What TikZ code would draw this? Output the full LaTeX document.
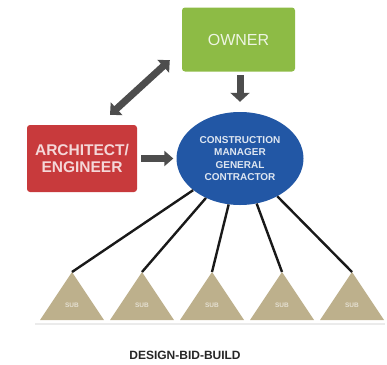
\documentclass[tikz,border=0pt]{standalone}
\usepackage{fontspec}
\setmainfont{Liberation Sans}
\usepackage{tikz}
\usetikzlibrary{shapes.geometric}
\usetikzlibrary{arrows.meta}
\definecolor{ownergreen}{HTML}{8DBB45}
\definecolor{archred}{HTML}{C83A3C}
\definecolor{cmblue}{HTML}{2257A5}
\definecolor{subtan}{HTML}{BDB08C}
\definecolor{arrowgray}{HTML}{4D4D4D}
\newcommand{\subtriangle}[2]{ % Takes apex x coord and a name for the apex as arguments
    \fill[subtan] (#1,272) coordinate (#2) -- (#1+32,320) -- (#1-32,320) -- cycle;
    \node[subtext] (#2lbl) at (#1,305) {SUB};
}

\begin{document}
\begin{tikzpicture}[x=1pt, y=-1pt,
    box/.style={rectangle, rounded corners=3pt, align=center, inner sep=0pt},
    fatarrow/.style={arrowgray, line width=7pt},
    subline/.style={black!90, line width=2.4pt},
    subtext/.style={font=\bfseries\fontsize{6.5}{7}\selectfont, text=white!60!subtan, inner sep=0pt}]
    \useasboundingbox (0,0) rectangle (387,364);

    % Owner, architect and CM
    \node[box, fill=ownergreen, minimum width=113pt, minimum height=64pt, text=white!85!ownergreen,
        font=\fontsize{16}{18}\selectfont] (owner) at (238.5,39.5) {OWNER};
    \node[box, fill=archred, minimum width=110pt, minimum height=67pt, text=white!80!archred,
        font=\bfseries\fontsize{15.5}{17}\selectfont] (arch) at (82,158.5) {ARCHITECT/\\ENGINEER};
    \node[ellipse, fill=cmblue, minimum width=127pt, minimum height=93pt, inner sep=0pt, align=center,
        text=white!85!cmblue, font=\bfseries\fontsize{10}{11.5}\selectfont] (cm) at (240,158.5)
        {CONSTRUCTION\\MANAGER\\[2pt]GENERAL\\CONTRACTOR};

    % Arrows
    \draw[fatarrow, {Triangle[length=9pt,width=17pt]}-{Triangle[length=9pt,width=17pt]}]
        ([shift={(28,-10)}]arch.north) -- ([shift={(-12,-11.5)}]owner.south west);
    \draw[fatarrow, -{Triangle[length=9pt,width=19pt]}, shorten <=3.5pt, shorten >=10pt]
        (owner.south -| cm) -- (cm.north);
    \draw[fatarrow, -{Triangle[length=9pt,width=15pt]}, shorten <=4pt, shorten >=3pt]
        (arch.east) -- (cm.west);

    % Subcontractors
    \draw[black!8, line width=1.2pt] (35,324) -- (385,324);
    \foreach \x [count=\i] in {72,142,212,282,352} {\subtriangle{\x}{sub\i}}
    \foreach \i in {1,...,5} \draw[subline] (cm) -- (sub\i);

    % Caption
    \node[font=\bfseries\fontsize{12}{14}\selectfont, text=black!85] (title) at (185,355) {DESIGN-BID-BUILD};
\end{tikzpicture}
\end{document}
